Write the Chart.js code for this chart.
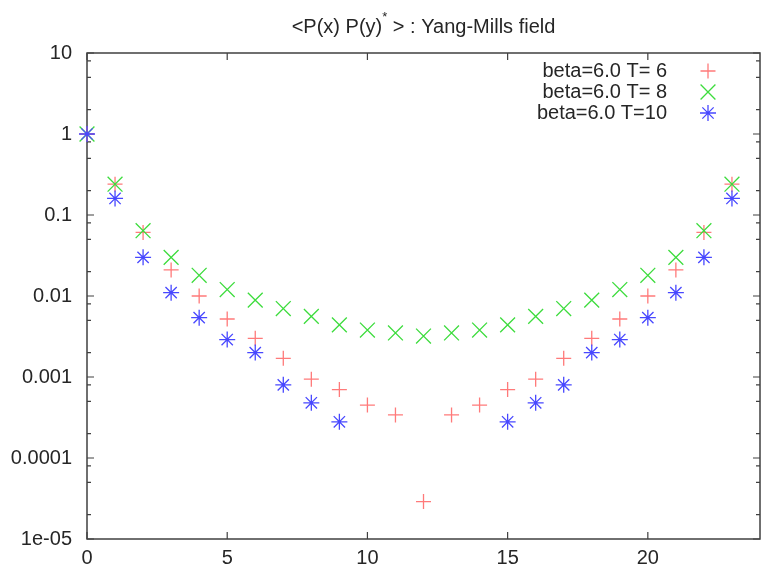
<!DOCTYPE html>
<html>
<head>
<meta charset="utf-8">
<script src="https://cdn.jsdelivr.net/npm/chart.js@4.4.1/dist/chart.umd.min.js"></script>
<style>
  html, body { margin: 0; padding: 0; background: #fff; }
  #wrap { width: 762px; height: 568px; position: relative; }
</style>
</head>
<body>
<div id="wrap"><canvas id="corr"></canvas></div>
<script>
// <P(x) P(y)*> correlator, Yang-Mills field, beta=6.0

const xs = [0, 1, 2, 3, 4, 5, 6, 7, 8, 9, 10, 11, 12, 13, 14, 15, 16, 17, 18, 19, 20, 21, 22, 23];

const corrT6 = [1, 0.24, 0.061, 0.021, 0.010, 0.0052, 0.0030, 0.0017, 0.00094, 0.00070, 0.00045, 0.00034,
  0.000029, 0.00034, 0.00045, 0.00070, 0.00094, 0.0017, 0.0030, 0.0052, 0.010, 0.021, 0.061, 0.24];
const corrT8 = [1, 0.24, 0.064, 0.030, 0.018, 0.012, 0.0089, 0.0070, 0.0056, 0.0044, 0.0038, 0.0035,
  0.0032, 0.0035, 0.0038, 0.0044, 0.0056, 0.0070, 0.0089, 0.012, 0.018, 0.030, 0.064, 0.24];
const corrT10 = [1, 0.16, 0.030, 0.011, 0.0054, 0.0029, 0.0020, 0.00080, 0.00048, 0.00028, null, null,
  null, null, null, 0.00028, 0.00048, 0.00080, 0.0020, 0.0029, 0.0054, 0.011, 0.030, 0.16];

const seriesLabels = ['beta=6.0 T= 6', 'beta=6.0 T= 8', 'beta=6.0 T=10'];

const xTickVals = [0, 5, 10, 15, 20];
const yTickVals = [10, 1, 0.1, 0.01, 0.001, 0.0001, 0.00001];
const yTickLabels = ['10', '1', '0.1', '0.01', '0.001', '0.0001', '1e-05'];
const yMinorMult = [2, 5, 8];

const FONT = '"Liberation Sans", Arial, sans-serif';
const TEXT = '#262626';
const FRAME = '#404040';

const toPoints = (vals) => xs.map((x, i) => ({ x, y: vals[i] }));

// frame + inward ticks, gnuplot style
const framePlugin = {
  id: 'frame',
  beforeDatasetsDraw(chart) {
    const { ctx, chartArea: a, scales } = chart;
    const xs_ = scales.x, ys_ = scales.y;
    ctx.save();
    ctx.strokeStyle = FRAME;
    ctx.lineWidth = 1.5;
    ctx.strokeRect(a.left, a.top, a.right - a.left, a.bottom - a.top);
    ctx.lineWidth = 1.2;
    ctx.beginPath();
    xTickVals.forEach(v => {
      const px = xs_.getPixelForValue(v);
      ctx.moveTo(px, a.bottom); ctx.lineTo(px, a.bottom - 7);
      ctx.moveTo(px, a.top); ctx.lineTo(px, a.top + 7);
    });
    yTickVals.forEach(v => {
      const py = ys_.getPixelForValue(v);
      ctx.moveTo(a.left, py); ctx.lineTo(a.left + 7, py);
      ctx.moveTo(a.right, py); ctx.lineTo(a.right - 7, py);
      if (v < 10) {
        yMinorMult.forEach(m => {
          const pm = ys_.getPixelForValue(v * m);
          ctx.moveTo(a.left, pm); ctx.lineTo(a.left + 4, pm);
          ctx.moveTo(a.right, pm); ctx.lineTo(a.right - 4, pm);
        });
      }
    });
    ctx.stroke();
    ctx.restore();
  },
  afterDraw(chart) {
    const { ctx, chartArea: a } = chart;
    ctx.save();
    // title with superscript star
    ctx.fillStyle = TEXT;
    ctx.textBaseline = 'alphabetic';
    const big = '20px ' + FONT, small = '13px ' + FONT;
    const p1 = '<P(x) P(y)', p2 = '*', p3 = ' > : Yang-Mills field';
    ctx.font = big;
    const w1 = ctx.measureText(p1).width, w3 = ctx.measureText(p3).width;
    ctx.font = small;
    const w2 = ctx.measureText(p2).width;
    let tx = (a.left + a.right) / 2 - (w1 + w2 + w3) / 2;
    const ty = 33;
    ctx.textAlign = 'left';
    ctx.font = big; ctx.fillText(p1, tx, ty); tx += w1;
    ctx.font = small; ctx.fillText(p2, tx, ty - 12); tx += w2;
    ctx.font = big; ctx.fillText(p3, tx, ty);

    // legend: text right-aligned, sample marker on the right
    const rowsY = [71, 92, 113];
    chart.data.datasets.forEach((ds, i) => {
      ctx.font = big;
      ctx.textAlign = 'right';
      ctx.textBaseline = 'middle';
      ctx.fillStyle = TEXT;
      ctx.fillText(ds.label, 667, rowsY[i]);
      ctx.strokeStyle = ds.borderColor;
      ctx.lineWidth = ds.borderWidth;
      Chart.helpers.drawPoint(ctx, { pointStyle: ds.pointStyle, radius: ds.pointRadius, borderWidth: ds.borderWidth, rotation: 0 }, 708, rowsY[i]);
    });
    ctx.restore();
  }
};

const mkSet = (label, vals, color, style, r, order) => ({
  label,
  data: toPoints(vals),
  showLine: false,
  pointStyle: style,
  pointRadius: r,
  pointHoverRadius: r,
  borderColor: color,
  backgroundColor: color,
  borderWidth: 1.3,
  order,
  clip: false
});

new Chart(document.getElementById('corr'), {
  type: 'scatter',
  data: {
    datasets: [
      mkSet(seriesLabels[0], corrT6, '#ff7a7a', 'cross', 7.5, 3),
      mkSet(seriesLabels[1], corrT8, '#3ddc3d', 'crossRot', 10.5, 2),
      mkSet(seriesLabels[2], corrT10, '#4848ff', 'star', 8, 1)
    ]
  },
  options: {
    responsive: true,
    maintainAspectRatio: false,
    animation: false,
    layout: { autoPadding: false, padding: { top: 53, right: 2, left: 0, bottom: 0 } },
    plugins: {
      legend: { display: false },
      title: { display: false },
      tooltip: { enabled: false }
    },
    scales: {
      x: {
        type: 'linear',
        min: 0,
        max: 24,
        afterBuildTicks: (s) => { s.ticks = xTickVals.map(v => ({ value: v })); },
        afterFit: (s) => { s.height = 29; s.paddingLeft = 0; s.paddingRight = 0; },
        grid: { display: false, drawTicks: false },
        border: { display: false },
        ticks: { color: TEXT, font: { family: FONT, size: 20 }, padding: 7, maxRotation: 0 }
      },
      y: {
        type: 'logarithmic',
        min: 0.00001,
        max: 10,
        afterBuildTicks: (s) => { s.ticks = yTickVals.map(v => ({ value: v })); },
        afterFit: (s) => { s.width = 87; s.paddingTop = 0; s.paddingBottom = 0; },
        grid: { display: false, drawTicks: false },
        border: { display: false },
        ticks: {
          color: TEXT,
          font: { family: FONT, size: 20 },
          padding: 15,
          callback: (v, i) => yTickLabels[i]
        }
      }
    }
  },
  plugins: [framePlugin]
});
</script>
</body>
</html>
